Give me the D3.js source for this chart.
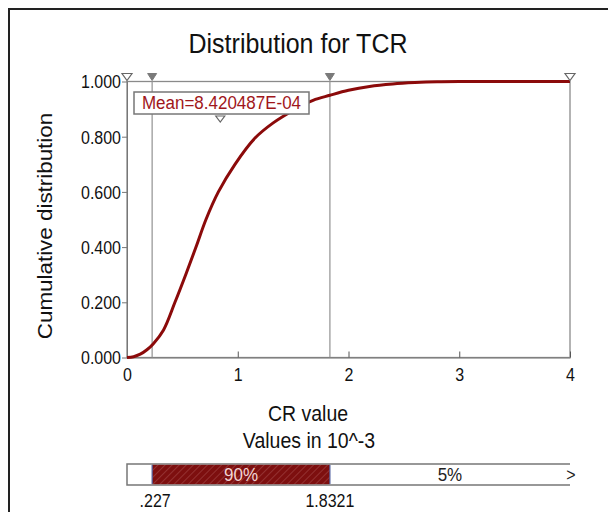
<!DOCTYPE html>
<html>
<head>
<meta charset="utf-8">
<script src="https://cdn.jsdelivr.net/npm/d3@7"></script>
<style>
  body { margin: 0; background: #fff; }
  text { font-family: "Liberation Sans", Arial, sans-serif; }
</style>
</head>
<body>
<svg id="chart" width="608" height="512"></svg>
<script>
// values in 10^-3
const cdfX = [0, 0.06, 0.12, 0.18, 0.238, 0.33, 0.433, 0.53, 0.623, 0.713, 0.825, 0.975, 1.156, 1.32, 1.5, 1.68, 1.8321, 2.0, 2.19, 2.4, 2.6, 2.8, 3.0, 4.0];
const cdfY = [0, 0.003, 0.012, 0.028, 0.05, 0.1, 0.2, 0.3, 0.4, 0.5, 0.6, 0.7, 0.795, 0.85, 0.895, 0.932, 0.95, 0.968, 0.982, 0.991, 0.996, 0.999, 1.0, 1.0];
const xTicks = [0, 1, 2, 3, 4];
const yTicks = [0, 0.2, 0.4, 0.6, 0.8, 1.0];
const pctMarks = [0.227, 1.8321];
const pctLabels = [".227", "1.8321"];
const bandLabels = ["", "90%", "5%"];
const rangeEnds = [0, 4];
const meanValue = 0.8420487;
const meanLabel = "Mean=8.420487E-04";

const svg = d3.select("#chart");
const sy = 1.12; // text looks stretched vertically

// outer frame
svg.append("path")
  .attr("d", "M9,512 L9,9 L608,9")
  .attr("fill", "none").attr("stroke", "#222").attr("stroke-width", 2);

const x = d3.scaleLinear().domain([0, 4]).range([127, 570]);
const y = d3.scaleLinear().domain([0, 1]).range([357.5, 81.5]);

function txt(xp, yp, s, size, anchor, color) {
  return svg.append("text")
    .attr("transform", `translate(${xp},${yp}) scale(1,${sy})`)
    .attr("text-anchor", anchor || "middle")
    .attr("font-size", size)
    .attr("fill", color || "#111")
    .text(s);
}

// title
txt(298, 53, "Distribution for TCR", 25);

// plot box
svg.append("rect")
  .attr("x", x(0)).attr("y", y(1))
  .attr("width", x(4) - x(0)).attr("height", y(0) - y(1))
  .attr("fill", "none").attr("stroke", "#8a8a8a").attr("stroke-width", 1.3);

// percentile lines
svg.selectAll(".pline").data(pctMarks).enter().append("line")
  .attr("x1", d => x(d)).attr("x2", d => x(d))
  .attr("y1", y(1)).attr("y2", y(0))
  .attr("stroke", "#9a9a9a").attr("stroke-width", 1.3);

// y axis
const yAxis = svg.append("g")
  .attr("transform", `translate(${x(0)},0)`)
  .call(d3.axisLeft(y).tickValues(yTicks).tickFormat(d3.format(".3f")).tickSize(5).tickPadding(1));
yAxis.select(".domain").attr("stroke", "#777");
yAxis.selectAll(".tick line").attr("stroke", "#777");
yAxis.selectAll(".tick text")
  .attr("font-size", 16).attr("fill", "#111")
  .attr("font-family", "Liberation Sans, Arial, sans-serif")
  .attr("transform", `scale(1,${sy})`)
  .attr("y", 0).attr("dy", "0.36em");
yAxis.selectAll(".tick").filter(d => d === 1).select("text").attr("x", -6);
yAxis.selectAll(".tick").filter(d => d === 1 || d === 0).select("line").remove();

// x axis (ticks point inward)
const xAxis = svg.append("g")
  .attr("transform", `translate(0,${y(0)})`)
  .call(d3.axisBottom(x).tickValues(xTicks).tickFormat(d3.format("d")).tickSizeInner(-6).tickSizeOuter(0).tickPadding(10));
xAxis.select(".domain").attr("stroke", "#777");
xAxis.selectAll(".tick line").attr("stroke", "#555");
xAxis.selectAll(".tick text")
  .attr("font-size", 16).attr("fill", "#111")
  .attr("font-family", "Liberation Sans, Arial, sans-serif")
  .attr("transform", `scale(1,${sy})`);
xAxis.selectAll(".tick").filter(d => d === 0).select("line").remove();

// curve
const line = d3.line()
  .x((d, i) => x(cdfX[i]))
  .y(d => y(d))
  .curve(d3.curveCatmullRom.alpha(0.5));
svg.append("path")
  .datum(cdfY)
  .attr("d", line)
  .attr("fill", "none").attr("stroke", "#8b0a0a").attr("stroke-width", 3);

// markers on top
const tri = (cx, tipY, w, h) => `M${cx - w / 2},${tipY - h} L${cx + w / 2},${tipY - h} L${cx},${tipY} Z`;
svg.selectAll(".endMark").data(rangeEnds).enter().append("path")
  .attr("d", d => tri(x(d), y(1) - 1, 10, 7))
  .attr("fill", "#fff").attr("stroke", "#666").attr("stroke-width", 1.2);
svg.selectAll(".pMark").data(pctMarks).enter().append("path")
  .attr("d", d => tri(x(d), y(1) - 1, 9, 7))
  .attr("fill", "#7a7a7a").attr("stroke", "#7a7a7a").attr("stroke-width", 1);

// mean label
svg.append("rect")
  .attr("x", 134).attr("y", 92).attr("width", 175).attr("height", 22)
  .attr("fill", "#fff").attr("stroke", "#777").attr("stroke-width", 1.5);
txt(221.5, 109, meanLabel, 17, "middle", "#a0161a");
svg.append("path")
  .attr("d", tri(x(meanValue), 122, 9, 6))
  .attr("fill", "#fff").attr("stroke", "#666").attr("stroke-width", 1.2);

// axis labels
txt(308, 421, "CR value", 19.5);
txt(309, 448, "Values in 10^-3", 19.5);
svg.append("text")
  .attr("transform", `translate(52,226) scale(1,${sy}) rotate(-90)`)
  .attr("text-anchor", "middle").attr("font-size", 20).attr("fill", "#111")
  .text("Cumulative distribution");

// percentile bar
const defs = svg.append("defs");
const pat = defs.append("pattern")
  .attr("id", "hatch").attr("patternUnits", "userSpaceOnUse")
  .attr("width", 5).attr("height", 5)
  .attr("patternTransform", "rotate(45)");
pat.append("rect").attr("width", 5).attr("height", 5).attr("fill", "#7d0f0f");
pat.append("line").attr("x1", 0).attr("y1", 0).attr("x2", 0).attr("y2", 5)
  .attr("stroke", "#a84c4c").attr("stroke-width", 1.1);

const barTop = 464, barH = 21;
const bounds = [0, pctMarks[0], pctMarks[1], 4];
svg.append("path")
  .attr("d", `M${x(4)},${barTop} L${x(0)},${barTop} L${x(0)},${barTop + barH} L${x(4)},${barTop + barH}`)
  .attr("fill", "#fff").attr("stroke", "#777").attr("stroke-width", 1.5);
svg.append("rect")
  .attr("x", x(pctMarks[0])).attr("y", barTop + 0.8)
  .attr("width", x(pctMarks[1]) - x(pctMarks[0])).attr("height", barH - 1.6)
  .attr("fill", "url(#hatch)");
svg.selectAll(".bline").data(pctMarks).enter().append("line")
  .attr("x1", d => x(d)).attr("x2", d => x(d))
  .attr("y1", barTop + 1).attr("y2", barTop + barH - 1)
  .attr("stroke", "#5060a0").attr("stroke-width", 1.2);
bandLabels.forEach((s, i) => {
  if (!s) return;
  const cx = (x(bounds[i]) + x(bounds[i + 1])) / 2;
  txt(cx, 481, s, 17, "middle", i === 1 ? "#f2d4d4" : "#222");
});
txt(571, 481, ">", 16, "middle", "#222");
pctMarks.forEach((d, i) => {
  txt(x(d) + (i === 0 ? 3 : 0), 507, pctLabels[i], 16, "middle", "#111");
});
</script>
</body>
</html>
